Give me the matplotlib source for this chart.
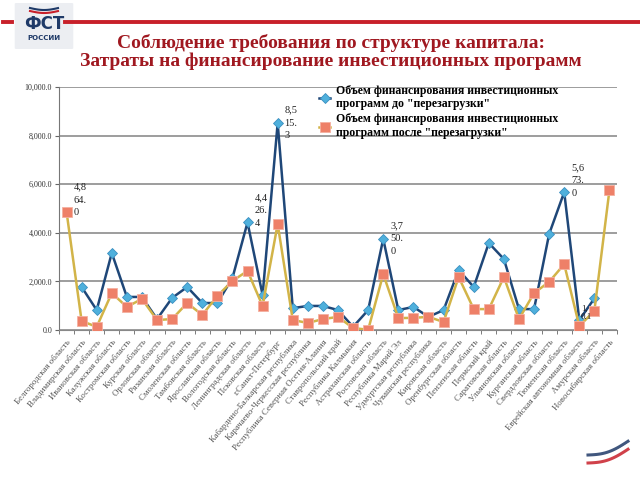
import numpy as np
import matplotlib
matplotlib.use("Agg")
import matplotlib.pyplot as plt
from matplotlib.patches import FancyBboxPatch

plt.rcParams['font.family'] = ['Liberation Serif', 'DejaVu Serif']

# regions on the x axis
regions = [
    "Белгородская область", "Владимирская область", "Ивановская область",
    "Калужская область", "Костромская область", "Курская область",
    "Орловская область", "Рязанская область", "Смоленская область",
    "Тамбовская область", "Ярославская область", "Вологодская область",
    "Ленинградская область", "Псковская область", "г.Санкт-Петербург",
    "Кабардино-Балкарская республика", "Карачаево-Черкесская республика",
    "Республика Северная Осетия-Алания", "Ставропольский край",
    "Республика Калмыкия", "Астраханская область", "Ростовская область",
    "Республика Марий Эл", "Удмуртская республика", "Чувашская республика",
    "Кировская область", "Оренбургская область", "Пензенская область",
    "Пермский край", "Саратовская область", "Ульяновская область",
    "Курганская область", "Свердловская область", "Тюменская область",
    "Еврейская автономная область", "Амурская область",
    "Новосибирская область",
]

# before "reload" (blue) and after (orange)
before = [np.nan, 1770, 820, 3170, 1360, 1360, 450, 1320, 1770, 1110,
          1110, 2140, 4426.4, 1440, 8515.3, 900, 990, 990, 820, 130,
          820, 3750.0, 820, 950, 540, 820, 2470, 1770, 3580, 2920,
          860, 860, 3950, 5673.0, 410, 1300, np.nan]
after = [4864.0, 370, 130, 1520, 950, 1280, 410, 450, 1110, 620,
         1400, 2020, 2430, 990, 4360, 410, 290, 450, 540, 80,
         10, 2300, 490, 500, 540, 330, 2180, 860, 860, 2180,
         450, 1520, 1980, 2710, 160, 790, 5760]

labels_idx = [0, 12, 14, 21, 33]
label_vals = [4864.0, 4426.4, 8515.3, 3750.0, 5673.0]

legend_names = ['Объем финансирования инвестиционных\nпрограмм до "перезагрузки"',
                'Объем финансирования инвестиционных\nпрограмм после "перезагрузки"']

title = ("Соблюдение требования по структуре капитала:\n"
         "Затраты на финансирование инвестиционных программ")


def wrap_label(v):
    s = f"{v:,.1f}"
    return "\n".join([s[i:i + 3] for i in range(0, len(s), 3)])


def main():
    fig = plt.figure(figsize=(6.4, 4.8), dpi=100)

    #   header: logo, red rule and title
    fig.add_artist(plt.Line2D([65 / 640, 1.0], [1 - 22 / 480] * 2, color="#c8202a", lw=2.8))
    fig.add_artist(plt.Line2D([3 / 640, 12 / 640], [1 - 22 / 480] * 2, color="#c8202a", lw=2.8))
    box = FancyBboxPatch((16 / 640, 1 - 48 / 480), 56 / 640, 44 / 480,
                         boxstyle="round,pad=0.002", transform=fig.transFigure,
                         facecolor="#eceef2", edgecolor="none")
    fig.add_artist(box)
    fig.text(44 / 640, 1 - 24 / 480, "ФСТ", family="DejaVu Sans", weight="bold",
             fontsize=12, color="#1f3a68", ha="center", va="center")
    fig.text(44 / 640, 1 - 38 / 480, "РОССИИ", family="DejaVu Sans", weight="bold",
             fontsize=5, color="#1f3a68", ha="center", va="center")
    for c, dy in [("#1f3a68", 8), ("#c8202a", 11)]:
        xs = np.linspace(30, 58, 20)
        fig.add_artist(plt.Line2D(xs / 640, 1 - (dy + 2 * np.sin((xs - 30) / 9)) / 480,
                                  color=c, lw=1.5))
    fig.text(331 / 640, 1 - 52 / 480, title, ha="center", va="center",
             fontsize=14, weight="bold", color="#a01820", linespacing=1.05)

    #   bottom right swoosh
    for c, off in [("#1f3a68", 0), ("#ffffff", 4), ("#c8202a", 8)]:
        xs = np.linspace(588, 628, 20)
        ys = 455 + off - (xs - 588) * 0.35 + 4 * np.sin((xs - 588) / 13)
        fig.add_artist(plt.Line2D(xs / 640, 1 - ys / 480, color=c, lw=2.2, alpha=0.85))

    ax = fig.add_axes([59 / 640, 1 - 330 / 480, 558 / 640, 243 / 480])
    x = np.arange(len(regions))

    ax.plot(x, before, color="#1f4778", lw=1.8, marker="D", markersize=5,
            markerfacecolor="#4fb0dc", markeredgecolor="#3a8fc0", markeredgewidth=0.6,
            label=legend_names[0], zorder=3)
    ax.plot(x, after, color="#d2b448", lw=1.8, marker="s", markersize=7,
            markerfacecolor="#ee8068", markeredgecolor="#f4b0a0", markeredgewidth=0.6,
            label=legend_names[1], zorder=4)

    #   value labels, wrapped like the original
    va_map = {0: "bottom", 12: "bottom", 14: "center", 21: "center", 33: "bottom"}
    for i, v in zip(labels_idx, label_vals):
        ax.annotate(wrap_label(v), (i, v), xytext=(5, -4 if va_map[i] == "bottom" else 0),
                    textcoords="offset points", fontsize=7.5, color="#222222",
                    ha="left", va=va_map[i], linespacing=1.55, zorder=5)
    ax.text(34.1, 700, "1,\n0.1", fontsize=6.5, color="#222222", ha="left", va="center",
            linespacing=0.9, zorder=5)

    ax.set_xlim(-0.5, len(regions) - 0.5)
    ax.set_ylim(0, 10000)
    ax.set_yticks(np.arange(0, 10001, 2000))
    ax.set_yticklabels([f"{v:,.1f}" for v in np.arange(0, 10001, 2000)],
                       fontsize=5.8, color="#333333")
    ax.grid(axis="y", color="#8c8c8c", lw=1.2)
    ax.set_axisbelow(True)

    ax.set_xticks(x)
    ax.set_xticklabels(regions, rotation=50, ha="right", rotation_mode="anchor",
                       fontsize=6.3, color="#555555")
    ax.set_xticks(np.arange(-0.5, len(regions)), minor=True)
    ax.tick_params(axis="x", which="major", length=0, pad=6)
    ax.tick_params(axis="x", which="minor", length=3, color="#666666")
    ax.tick_params(axis="y", length=3, color="#666666", pad=2)

    for s in ["top", "right"]:
        ax.spines[s].set_visible(False)
    ax.spines["left"].set_color("#777777")
    ax.spines["bottom"].set_color("#888888")

    fig.legend(loc="upper left", bbox_to_anchor=(308 / 640, 1 - 74 / 480),
               frameon=False, handlelength=1.0, handletextpad=0.5,
               labelspacing=0.25, prop={"weight": "bold", "size": 8.5})

    fig.savefig("out.png", dpi=100)


if __name__ == "__main__":
    main()
